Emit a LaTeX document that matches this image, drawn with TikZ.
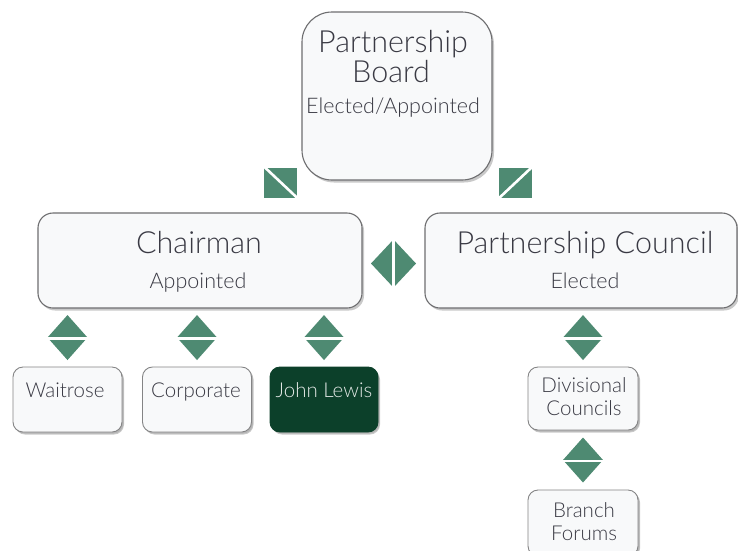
\documentclass[tikz,border=0pt]{standalone}
\usepackage{fontspec}
\setmainfont{Lato}[UprightFont={* Light}]
\usetikzlibrary{shadows,calc}
\definecolor{dgreen}{RGB}{78,138,114}
\definecolor{jlgreen}{RGB}{12,64,42}
\definecolor{boxfill}{RGB}{248,249,250}
\definecolor{boxline}{RGB}{110,110,112}
\definecolor{txt}{RGB}{58,58,68}
\tikzset{
  box/.style={draw=boxline, line width=1.1pt, fill=boxfill, rectangle,
    drop shadow={shadow xshift=2pt, shadow yshift=-2.5pt, opacity=0.35, fill=black!60}},
  bigbox/.style={box, rounded corners=30pt},
  midbox/.style={box, rounded corners=15pt},
  smallbox/.style={box, rounded corners=10pt, line width=0.9pt, draw=boxline!85,
    drop shadow={shadow xshift=1.5pt, shadow yshift=-1.5pt, opacity=0.2, fill=black!60}},
  jlbox/.style={smallbox, fill=jlgreen, draw=jlgreen},
  ttl/.style={text=txt, anchor=base, font=\fontsize{30.5}{32}\selectfont, inner sep=0pt},
  sub/.style={text=txt, anchor=base, font=\fontsize{21.5}{24}\selectfont, inner sep=0pt},
  sml/.style={text=txt, anchor=base, font=\fontsize{20.5}{22}\selectfont, inner sep=0pt},
  dia/.style={fill=dgreen},
  gap/.style={draw=white, line width=2.6pt},
}
\begin{document}
\begin{tikzpicture}[x=1pt,y=-1pt]
\clip (0,0) rectangle (738,550);
\fill[white] (0,0) rectangle (738,550);

% boxes
\node[bigbox, minimum width=190pt, minimum height=168pt] (pb) at (397,96) {};
\node[midbox, minimum width=324pt, minimum height=95pt] (ch) at (200,260.5) {};
\node[midbox, minimum width=312pt, minimum height=95pt] (pc) at (581,260.5) {};
\node[smallbox, minimum width=109pt, minimum height=65pt] (wa) at (67.5,399.5) {};
\node[smallbox, minimum width=109pt, minimum height=65pt] (co) at (197,399.5) {};
\node[jlbox, minimum width=108pt, minimum height=65pt] (jl) at (324,399.5) {};
\node[smallbox, minimum width=110pt, minimum height=63pt] (dc) at (583,398.5) {};
\node[smallbox, minimum width=110pt, minimum height=66pt] (bf) at (583,523) {};

% texts
\node[ttl] (pbt1) at (393,52) {Partnership};
\node[ttl] (pbt2) at (391,82) {Board};
\node[sub] (pbt3) at (393,113) {Elected/Appointed};
\node[ttl] (cht1) at (199,253) {Chairman};
\node[sub] (cht2) at (198,288) {Appointed};
\node[ttl] (pct1) at (585,253) {Partnership Council};
\node[sub] (pct2) at (585,288) {Elected};
\node[sml] (wat) at (65,397) {Waitrose};
\node[sml] (cot) at (196,397) {Corporate};
\node[sml, text=white!88!jlgreen] (jlt) at (324,397) {John Lewis};
\node[sml] (dct1) at (584,392) {Divisional};
\node[sml] (dct2) at (584,415) {Councils};
\node[sml] (bft1) at (584,517) {Branch};
\node[sml] (bft2) at (584,540) {Forums};

% vertical diamonds (connectors)
\foreach \up/\dn/\nm in {ch/wa/d1, ch/co/d2, ch/jl/d3, pc/dc/d4, dc/bf/d5}{
  \coordinate (\nm) at ($(\up.south -| \dn.north)!0.5!(\dn.north)$);
  \fill[dia] (\nm) ++(0,-22.5) -- ++(20,22.5) -- ++(-20,22.5) -- ++(-20,-22.5) -- cycle;
  \draw[gap] ($(\nm)+(-22,1)$) -- ($(\nm)+(22,1)$);
}

% horizontal diamond between chairman and council
\coordinate (d6) at ($(ch.east)!0.5!(pc.west)+(0,3)$);
\fill[dia] (d6) ++(-22.5,0) -- ++(22.5,-24) -- ++(22.5,24) -- ++(-22.5,24) -- cycle;
\draw[gap] ($(d6)+(0,-26)$) -- ($(d6)+(0,26)$);

% squares near the board
\coordinate (s1) at ($(pb.south west)+(-20.5,2)$);
\fill[dia] ($(s1)+(-16.5,-15)$) rectangle ($(s1)+(16.5,15)$);
\draw[gap] ($(s1)+(-17,-16)$) -- ($(s1)+(17,16)$);
\coordinate (s2) at ($(pb.south east)+(23,2)$);
\fill[dia] ($(s2)+(-16.5,-15)$) rectangle ($(s2)+(16.5,15)$);
\draw[gap] ($(s2)+(17,-16)$) -- ($(s2)+(-17,16)$);
\end{tikzpicture}
\end{document}
